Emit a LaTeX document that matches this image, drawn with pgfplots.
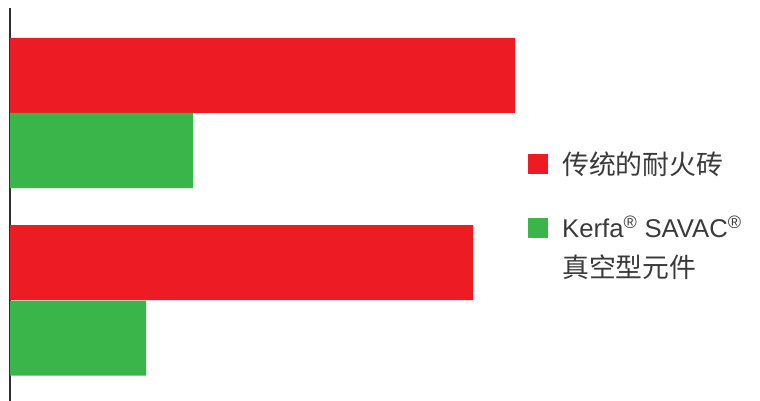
\documentclass[border=0pt]{standalone}
\usepackage{pgfplots}
\pgfplotsset{compat=1.18}
\usepackage{fontspec}
\setmainfont{Liberation Sans}
\newfontfamily\cjk[Scale=1.045]{Noto Sans CJK SC}
\definecolor{brickred}{HTML}{ED1C24}
\definecolor{vacgreen}{HTML}{3AB54A}
\definecolor{txtgray}{HTML}{3A3A3A}
\definecolor{axisgray}{HTML}{2E2E2E}
\begin{document}
\begin{tikzpicture}
\path[use as bounding box] (0pt,0pt) rectangle (760pt,401pt);
\begin{axis}[
    at={(10pt,0pt)}, anchor=south west,
    scale only axis,
    width=750pt, height=393pt,
    xmin=0, xmax=750,
    ymin=8, ymax=401,
    y dir=reverse,
    axis x line=none,
    axis y line=left,
    y axis line style={-, axisgray, line width=1.2pt},
    xtick=\empty, ytick=\empty,
    clip=false,
    legend style={
        at={(axis cs:518,150)}, anchor=north west,
        draw=none, fill=none, inner sep=0pt,
        row sep=36pt, column sep=12pt,
        font=\fontsize{25.7}{40}\selectfont\color{txtgray},
        cells={anchor=west, align=left},
    },
]
% traditional refractory brick
\addplot[xbar, bar width=75pt, bar shift=0pt, fill=brickred, draw=none,
    legend image code/.code={\fill[brickred] (0pt,-10pt) rectangle (20pt,10pt);}]
    coordinates {(505,75.5) (463,262.5)};
\addlegendentry{\cjk 传统的耐火砖}
% Kerfa SAVAC vacuum-formed elements
\addplot[xbar, bar width=75pt, bar shift=0pt, fill=vacgreen, draw=none,
    legend image code/.code={\fill[vacgreen] (0pt,10pt) rectangle (20pt,30pt);}]
    coordinates {(183,150.5) (136,338)};
\addlegendentry{Kerfa\textsuperscript{®} SAVAC\textsuperscript{®}\\{\cjk 真空型元件}}
\end{axis}
\end{tikzpicture}
\end{document}
